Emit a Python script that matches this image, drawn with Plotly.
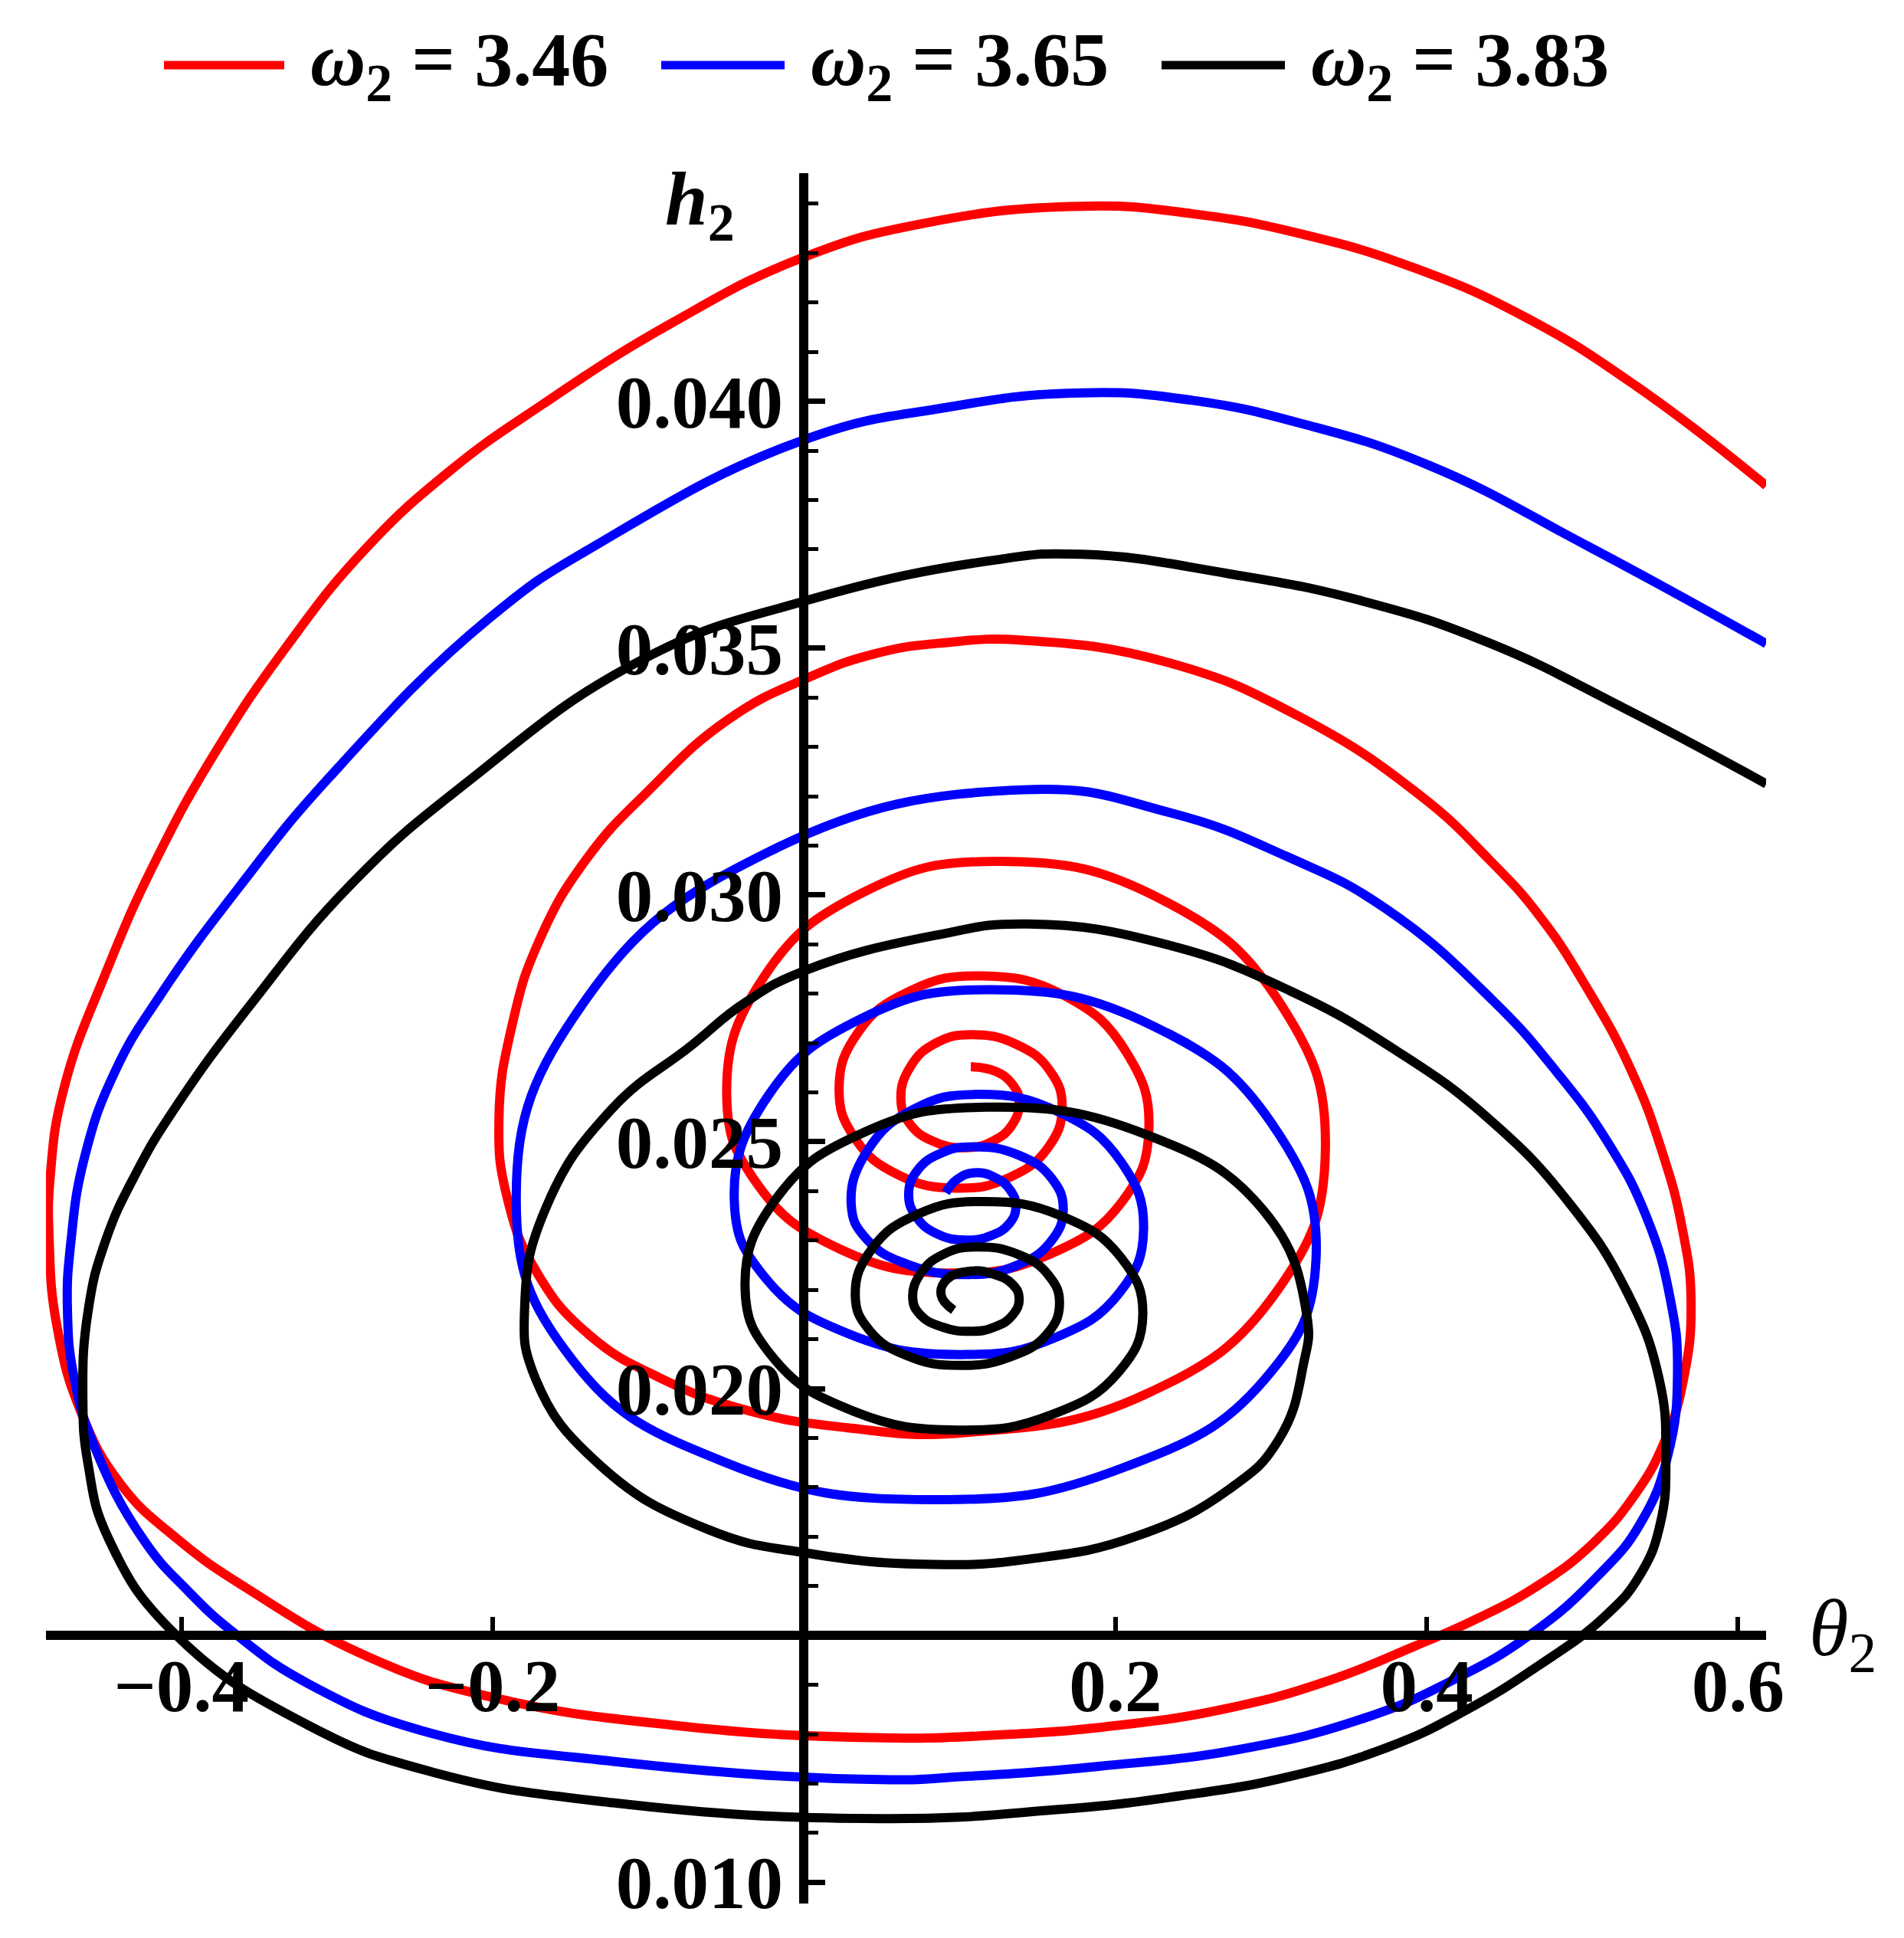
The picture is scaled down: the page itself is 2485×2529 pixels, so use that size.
import plotly.graph_objects as go

# ---------------- data (theta_2, h_2) ----------------
red_points = [
    (0.1071, 0.02652), (0.1227, 0.02643), (0.1340, 0.02616), (0.1382, 0.02581), (0.1336, 0.02534),
    (0.1210, 0.02501), (0.1037, 0.02488), (0.0829, 0.02501), (0.0678, 0.02537), (0.0622, 0.02586),
    (0.0683, 0.02652), (0.0847, 0.02700), (0.1071, 0.02717), (0.1365, 0.02697), (0.1579, 0.02644),
    (0.1658, 0.02570), (0.1567, 0.02488), (0.1321, 0.02428), (0.0984, 0.02406), (0.0605, 0.02433),
    (0.0327, 0.02507), (0.0225, 0.02608), (0.0348, 0.02722), (0.0683, 0.02806), (0.1141, 0.02836),
    (0.1679, 0.02795), (0.2071, 0.02681), (0.2215, 0.02525), (0.2046, 0.02380), (0.1584, 0.02273),
    (0.0953, 0.02234), (0.0228, 0.02283), (-0.0302, 0.02415), (-0.0497, 0.02596), (-0.0262, 0.02832),
    (0.0379, 0.03005), (0.1254, 0.03068), (0.2302, 0.02990), (0.3068, 0.02776), (0.3349, 0.02484),
    (0.3039, 0.02198), (0.2190, 0.01988), (0.1032, 0.01911), (0.0270, 0.01921), (-0.0365, 0.01956),
    (-0.0921, 0.02021), (-0.1381, 0.02109), (-0.1714, 0.02234), (-0.1905, 0.02384), (-0.1960, 0.02547),
    (-0.1873, 0.02740), (-0.1698, 0.02910), (-0.1397, 0.03073), (-0.1000, 0.03211), (-0.0484, 0.03356),
    (0.0032, 0.03441), (0.0460, 0.03489), (0.0905, 0.03511), (0.1405, 0.03516), (0.2346, 0.03470),
    (0.3183, 0.03361), (0.3952, 0.03203), (0.4397, 0.03073), (0.4730, 0.02955), (0.5032, 0.02810),
    (0.5310, 0.02647), (0.5508, 0.02484), (0.5643, 0.02322), (0.5698, 0.02176), (0.5651, 0.02021),
    (0.5532, 0.01896), (0.5333, 0.01783), (0.5056, 0.01683), (0.4714, 0.01601), (0.4317, 0.01533),
    (0.3921, 0.01478), (0.3365, 0.01408), (0.2730, 0.01353), (0.2016, 0.01318), (0.1222, 0.01298),
    (0.0429, 0.01293), (-0.0837, 0.01318), (-0.2008, 0.01375), (-0.2788, 0.01455), (-0.3567, 0.01593),
    (-0.4028, 0.01696), (-0.4389, 0.01806), (-0.4643, 0.01951), (-0.4798, 0.02124), (-0.4849, 0.02297),
    (-0.4841, 0.02436), (-0.4754, 0.02609), (-0.4482, 0.02845), (-0.4158, 0.03074), (-0.3772, 0.03294),
    (-0.3327, 0.03502), (-0.2826, 0.03698), (-0.2283, 0.03857), (-0.1683, 0.03993), (-0.0841, 0.04160),
    (-0.0008, 0.04291), (0.0778, 0.04361), (0.1778, 0.04395), (0.2492, 0.04380), (0.3206, 0.04338),
    (0.3921, 0.04270), (0.4635, 0.04170), (0.5349, 0.04030), (0.6181, 0.03829),
]

blue_points = [
    (0.0910, 0.02397), (0.0984, 0.02424), (0.1090, 0.02437), (0.1225, 0.02428), (0.1325, 0.02402),
    (0.1361, 0.02368), (0.1318, 0.02334), (0.1202, 0.02310), (0.1041, 0.02301), (0.0857, 0.02313),
    (0.0721, 0.02348), (0.0672, 0.02394), (0.0728, 0.02442), (0.0881, 0.02477), (0.1090, 0.02490),
    (0.1378, 0.02473), (0.1588, 0.02427), (0.1665, 0.02363), (0.1583, 0.02297), (0.1362, 0.02249),
    (0.1058, 0.02231), (0.0681, 0.02250), (0.0404, 0.02302), (0.0303, 0.02373), (0.0411, 0.02484),
    (0.0705, 0.02566), (0.1107, 0.02596), (0.1644, 0.02559), (0.2037, 0.02459), (0.2181, 0.02322),
    (0.2028, 0.02195), (0.1610, 0.02103), (0.1037, 0.02069), (0.0294, 0.02110), (-0.0248, 0.02224),
    (-0.0448, 0.02379), (-0.0229, 0.02594), (0.0371, 0.02750), (0.1189, 0.02808), (0.2239, 0.02735),
    (0.3007, 0.02536), (0.3289, 0.02264), (0.2960, 0.02019), (0.2060, 0.01841), (0.0829, 0.01775),
    (-0.0510, 0.01851), (-0.1490, 0.02059), (-0.1849, 0.02389), (-0.1413, 0.02783), (-0.0222, 0.03088),
    (0.1405, 0.03213), (0.2346, 0.03167), (0.3100, 0.03078), (0.3733, 0.02973), (0.4419, 0.02788),
    (0.4833, 0.02642), (0.5167, 0.02497), (0.5413, 0.02347), (0.5563, 0.02184), (0.5611, 0.02037),
    (0.5548, 0.01864), (0.5371, 0.01726), (0.5107, 0.01623), (0.4662, 0.01501), (0.4159, 0.01408),
    (0.3603, 0.01333), (0.2810, 0.01270), (0.1893, 0.01235), (0.1063, 0.01215), (0.0489, 0.01208),
    (-0.1227, 0.01245), (-0.2397, 0.01302), (-0.3178, 0.01401), (-0.3645, 0.01501), (-0.3957, 0.01590),
    (-0.4248, 0.01696), (-0.4556, 0.01881), (-0.4688, 0.02020), (-0.4732, 0.02159), (-0.4710, 0.02297),
    (-0.4621, 0.02470), (-0.4424, 0.02644), (-0.4135, 0.02797), (-0.3619, 0.03020), (-0.3056, 0.03236),
    (-0.2020, 0.03561), (-0.1307, 0.03714), (-0.0008, 0.03921), (0.0905, 0.03987), (0.1778, 0.04017),
    (0.2492, 0.04002), (0.3206, 0.03954), (0.4016, 0.03870), (0.5032, 0.03707), (0.6181, 0.03509),
]

black_points = [
    (0.0961, 0.02159), (0.0881, 0.02189), (0.0916, 0.02221), (0.1071, 0.02238), (0.1226, 0.02231),
    (0.1340, 0.02211), (0.1382, 0.02183), (0.1340, 0.02149), (0.1226, 0.02125), (0.1071, 0.02116),
    (0.0885, 0.02125), (0.0748, 0.02149), (0.0698, 0.02183), (0.0753, 0.02235), (0.0902, 0.02273),
    (0.1106, 0.02287), (0.1374, 0.02272), (0.1570, 0.02230), (0.1641, 0.02172), (0.1556, 0.02109),
    (0.1322, 0.02064), (0.1002, 0.02047), (0.0666, 0.02066), (0.0420, 0.02118), (0.0329, 0.02189),
    (0.0438, 0.02284), (0.0735, 0.02354), (0.1140, 0.02379), (0.1658, 0.02349), (0.2037, 0.02265),
    (0.2176, 0.02150), (0.2019, 0.02033), (0.1590, 0.01947), (0.1002, 0.01916), (0.0312, 0.01955),
    (-0.0194, 0.02061), (-0.0379, 0.02205), (-0.0171, 0.02388), (0.0398, 0.02521), (0.1175, 0.02570),
    (0.2202, 0.02514), (0.2954, 0.02360), (0.3229, 0.02150), (0.3206, 0.02046), (0.3048, 0.01896),
    (0.2730, 0.01796), (0.2135, 0.01701), (0.1451, 0.01655), (0.0830, 0.01644), (0.0036, 0.01666),
    (-0.0620, 0.01715), (-0.1311, 0.01845), (-0.1725, 0.02020), (-0.1794, 0.02172), (-0.1656, 0.02368),
    (-0.1242, 0.02564), (-0.0724, 0.02695), (-0.0379, 0.02782), (0.0000, 0.02846), (0.0840, 0.02918),
    (0.1442, 0.02941), (0.2346, 0.02898), (0.3127, 0.02805), (0.3802, 0.02685), (0.4397, 0.02547),
    (0.4913, 0.02377), (0.5286, 0.02196), (0.5492, 0.02021), (0.5536, 0.01864), (0.5500, 0.01726),
    (0.5371, 0.01623), (0.5149, 0.01540), (0.4714, 0.01438), (0.4232, 0.01345), (0.3762, 0.01275),
    (0.3127, 0.01215), (0.2413, 0.01175), (0.1619, 0.01147), (0.0489, 0.01129), (-0.1227, 0.01161),
    (-0.2397, 0.01224), (-0.3178, 0.01317), (-0.4035, 0.01501), (-0.4468, 0.01696), (-0.4599, 0.01846),
    (-0.4633, 0.01985), (-0.4599, 0.02158), (-0.4490, 0.02297), (-0.4292, 0.02436), (-0.4029, 0.02574),
    (-0.3545, 0.02782), (-0.2905, 0.03023), (-0.2174, 0.03226), (-0.1044, 0.03476), (0.0000, 0.03595),
    (0.1216, 0.03678), (0.1781, 0.03690), (0.2722, 0.03651), (0.3603, 0.03594), (0.4397, 0.03511),
    (0.5270, 0.03378), (0.6181, 0.03225),
]

omega_values = ["3.46", "3.65", "3.83"]
series_colors = ["#ff0000", "#0000ff", "#000000"]

x_tickvals = [-0.4, -0.2, 0.2, 0.4, 0.6]
x_ticktext = ["\u22120.4", "\u22120.2", "0.2", "0.4", "0.6"]
y_tickvals = [0.010, 0.020, 0.025, 0.030, 0.035, 0.040]
y_ticktext = ["0.010", "0.020", "0.025", "0.030", "0.035", "0.040"]

X_RANGE = [-0.487, 0.618]
Y_RANGE = [0.00957, 0.04462]
X_AXIS_AT_H = 0.015      # the theta axis crosses at h2 = 0.015
Y_AXIS_AT_THETA = 0.0    # the h axis crosses at theta2 = 0

FONT = "Liberation Serif"

# ---------------- figure ----------------
fig = go.Figure()
for pts, color, om in zip([red_points, blue_points, black_points], series_colors, omega_values):
    fig.add_trace(go.Scatter(
        x=[p[0] for p in pts], y=[p[1] for p in pts], mode="lines",
        name="\u03c9<sub>2</sub> = " + om,
        line=dict(color=color, width=12, shape="spline", smoothing=1.3, simplify=False),
        showlegend=False, hoverinfo="skip",
    ))

xpos = (X_AXIS_AT_H - Y_RANGE[0]) / (Y_RANGE[1] - Y_RANGE[0])
ypos = (Y_AXIS_AT_THETA - X_RANGE[0]) / (X_RANGE[1] - X_RANGE[0])

tickfont = dict(family=FONT, size=97, color="black", weight="bold")

fig.update_layout(
    width=2485, height=2529,
    margin=dict(l=52, r=188, t=218, b=53),
    paper_bgcolor="white", plot_bgcolor="white",
    xaxis=dict(
        range=X_RANGE, anchor="free", position=xpos, side="bottom",
        showline=True, linewidth=12, linecolor="black",
        showgrid=False, zeroline=False,
        ticks="inside", ticklen=18, tickwidth=6, tickcolor="black",
        tickmode="array", tickvals=x_tickvals, ticktext=x_ticktext,
        tickfont=tickfont, ticklabelstandoff=-24, automargin=False,
    ),
    yaxis=dict(
        range=Y_RANGE, anchor="free", position=ypos, side="left",
        showline=True, linewidth=12, linecolor="black",
        showgrid=False, zeroline=False,
        ticks="inside", ticklen=22, tickwidth=7, tickcolor="black",
        tickmode="array", tickvals=y_tickvals, ticktext=y_ticktext,
        minor=dict(tick0=0.010, dtick=0.001, ticks="inside", ticklen=13,
                   tickwidth=5, tickcolor="black", showgrid=False),
        tickfont=tickfont, ticklabelstandoff=2, automargin=False,
    ),
)

# axis titles
fig.add_annotation(xref="paper", yref="paper", x=0.359, y=0.982, xanchor="left", yanchor="middle",
                   text="<b><i>h</i><sub>2</sub></b>", showarrow=False,
                   font=dict(family=FONT, size=100, color="black"))
fig.add_annotation(xref="paper", yref="paper", x=1.024, y=0.156, xanchor="left", yanchor="middle",
                   text="<i>\u03b8</i><sub>2</sub>", showarrow=False,
                   font=dict(family=FONT, size=105, color="black"))

# legend (outside the plot area, above it)
PW, PH, L, B_TOP = 2245.0, 2258.0, 52.0, 2476.0
legend_y = (B_TOP - 77) / PH
swatches = [(206, 363, 395), (855, 1016, 1048), (1508, 1669, 1701)]
for (x0, x1, xt), color, om in zip(swatches, series_colors, omega_values):
    fig.add_shape(type="line", xref="paper", yref="paper",
                  x0=(x0 - L) / PW, x1=(x1 - L) / PW, y0=legend_y, y1=legend_y,
                  line=dict(color=color, width=11))
    fig.add_annotation(xref="paper", yref="paper", x=(xt - L) / PW, y=legend_y,
                       xanchor="left", yanchor="middle", showarrow=False,
                       text="<b><i>\u03c9</i><sub>2</sub> = " + om + "</b>",
                       font=dict(family=FONT, size=100, color="black"))

fig.write_html("out.html")
